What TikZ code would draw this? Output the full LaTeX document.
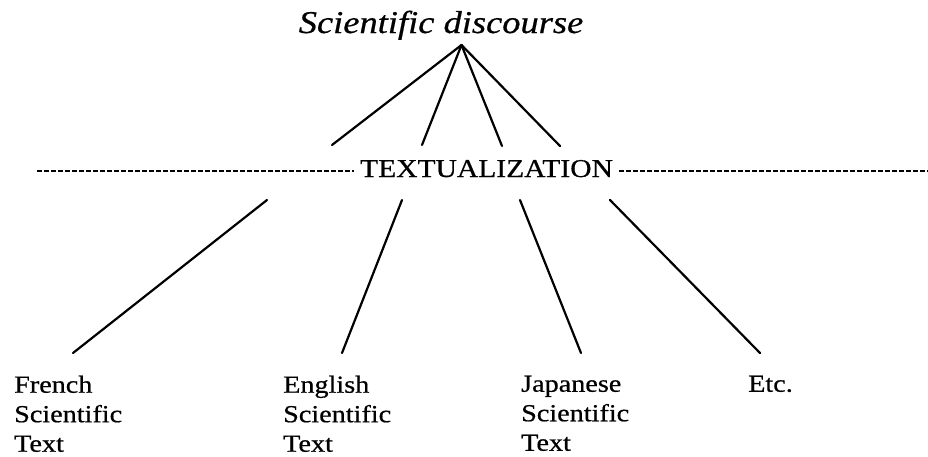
\documentclass[tikz,border=0pt]{standalone}
\usepackage{fontspec}
\setmainfont[FakeStretch=1.15,FakeBold=0.6]{Liberation Serif}
\begin{document}
\begin{tikzpicture}[x=1pt,y=-1pt,
  conn/.style={line width=2.2pt,line cap=round},
  dashline/.style={line width=2pt,dash pattern=on 5pt off 2pt},
  lab/.style={anchor=north west,inner sep=0pt,align=left,font=\fontsize{24.5}{29.5}\selectfont}]
\useasboundingbox (0,0) rectangle (928,456);
\node[anchor=base,inner sep=0pt,font=\itshape\fontsize{31.7}{36}\selectfont] (title) at (441,33) {Scientific discourse};
\coordinate (apex) at (461.5,45);
\coordinate (u1) at (332,145);
\coordinate (u2) at (422,145);
\coordinate (u3) at (502,146);
\coordinate (u4) at (560,146);
\foreach \u in {u1,u2,u3,u4} \draw[conn] (apex) -- (\u);
\node[anchor=base,inner sep=0pt,font=\fontsize{25.7}{30}\selectfont] (tx) at (486.5,177) {TEXTUALIZATION};
\coordinate (dl) at (37,171);
\coordinate (dr) at (928,171);
\draw[dashline] (dl) -- (354,171);
\draw[dashline] (619,171) -- (dr);
\coordinate (t1) at (267,200);
\coordinate (t2) at (402,200);
\coordinate (t3) at (520,200);
\coordinate (t4) at (610,200);
\coordinate (b1) at (73,353);
\coordinate (b2) at (342,353);
\coordinate (b3) at (581,353);
\coordinate (b4) at (760,353);
\foreach \i in {1,2,3,4} \draw[conn] (t\i) -- (b\i);
\node[lab] (fr) at (14,375.5) {French\\Scientific\\Text};
\node[lab] (en) at (283,375.5) {English\\Scientific\\Text};
\node[lab] (jp) at (521,375.5) {Japanese\\Scientific\\Text};
\node[lab] (etc) at (748,375.5) {Etc.};
\end{tikzpicture}
\end{document}
